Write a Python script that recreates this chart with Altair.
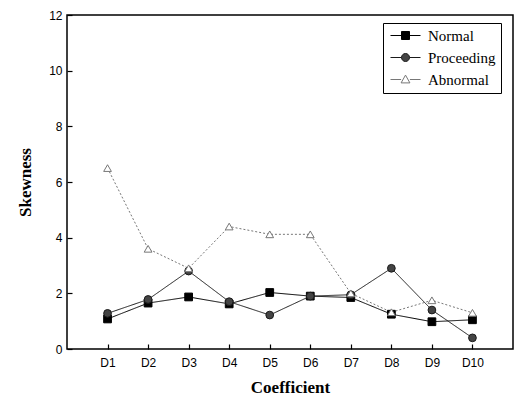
import altair as alt
import pandas as pd

coefficients = ["D1", "D2", "D3", "D4", "D5", "D6", "D7", "D8", "D9", "D10"]
positions = [1, 2, 3, 4, 5, 6, 7, 8, 9, 10]
normal = [1.08, 1.65, 1.87, 1.62, 2.03, 1.90, 1.85, 1.25, 0.98, 1.05]
proceeding = [1.28, 1.78, 2.80, 1.70, 1.22, 1.90, 1.95, 2.90, 1.40, 0.40]
abnormal = [6.50, 3.60, 2.90, 4.40, 4.12, 4.12, 2.00, 1.32, 1.75, 1.30]
series_names = ["Normal", "Proceeding", "Abnormal"]

rows = []
for name, vals in zip(series_names, [normal, proceeding, abnormal]):
    for c, p, v in zip(coefficients, positions, vals):
        rows.append({"series": name, "coef": c, "pos": p, "value": v})
df = pd.DataFrame(rows)

stroke_range = ["#000000", "#1a1a1a", "#777777"]
fill_range = ["#000000", "#444444", "#ffffff"]

x_enc = alt.X("pos:Q", scale=alt.Scale(domain=[0, 11], nice=False, zero=False),
              axis=alt.Axis(values=positions, labelExpr="'D' + datum.value", title="Coefficient",
                            grid=False, domain=False, offset=-5, tickSize=5, labelPadding=8,
                            titlePadding=11))
y_enc = alt.Y("value:Q", scale=alt.Scale(domain=[0, 12], nice=False),
              axis=alt.Axis(values=[0, 2, 4, 6, 8, 10, 12], title="Skewness", grid=False,
                            domain=False, offset=-5, tickSize=5, labelPadding=5, titlePadding=14))

base = alt.Chart(df)

lines = base.mark_line(strokeWidth=1).encode(
    x=x_enc, y=y_enc,
    detail="series:N",
    stroke=alt.Stroke("series:N", scale=alt.Scale(domain=series_names, range=stroke_range), legend=None),
    strokeDash=alt.StrokeDash("series:N", scale=alt.Scale(domain=series_names, range=[[1, 0], [1, 0], [2, 2]]), legend=None),
)

points = base.mark_point(filled=True, size=60, strokeWidth=1, opacity=1).encode(
    x=x_enc, y=y_enc,
    shape=alt.Shape("series:N", scale=alt.Scale(domain=series_names, range=["square", "circle", "triangle-up"]), legend=None),
    fill=alt.Fill("series:N", scale=alt.Scale(domain=series_names, range=fill_range), legend=None),
    stroke=alt.Stroke("series:N", scale=alt.Scale(domain=series_names, range=stroke_range), legend=None),
)

sym_normal = "M-1.25,0H1.5M3.5,0H6.25M1.5,-1H3.5V1H1.5Z"
sym_proc = "M-1.25,0H1.5M3.5,0H6.25M3.5,0A1,1,0,1,1,1.5,0A1,1,0,1,1,3.5,0Z"
sym_abn = "M-1.25,0H1.4M3.6,0H6.25M2.5,-1.1L3.6,0.85H1.4Z"

legend = alt.Legend(title=None, orient="none", legendX=316, legendY=8,
                    symbolSize=64, symbolStrokeWidth=1, symbolOpacity=1, labelOffset=25,
                    labelFont="Liberation Serif", labelFontSize=15, labelColor="black",
                    strokeColor="black", fillColor="white", padding=5, rowPadding=6)

leg = base.transform_filter("false").mark_point(filled=True, opacity=1).encode(
    x=x_enc, y=y_enc,
    shape=alt.Shape("series:N", scale=alt.Scale(domain=series_names, range=[sym_normal, sym_proc, sym_abn]), legend=legend),
    fill=alt.Fill("series:N", scale=alt.Scale(domain=series_names, range=fill_range), legend=legend),
    stroke=alt.Stroke("series:N", scale=alt.Scale(domain=series_names, range=stroke_range), legend=legend),
)

chart = alt.layer(lines, points, leg).resolve_scale(
    shape="independent", fill="independent", stroke="independent", strokeDash="independent"
).properties(
    width=446, height=334,
    autosize=alt.AutoSizeParams(type="none"),
    padding={"left": 59, "top": 7, "right": 5, "bottom": 50},
).configure_view(stroke="black", strokeWidth=1.5).configure_axis(
    tickColor="black", tickWidth=1.2,
    labelFont="Liberation Sans", labelFontSize=12, labelColor="black",
    titleFont="Liberation Serif", titleFontSize=17, titleFontWeight="bold", titleColor="black",
)

chart.save("out.html", embed_options={"renderer": "svg", "actions": False})
